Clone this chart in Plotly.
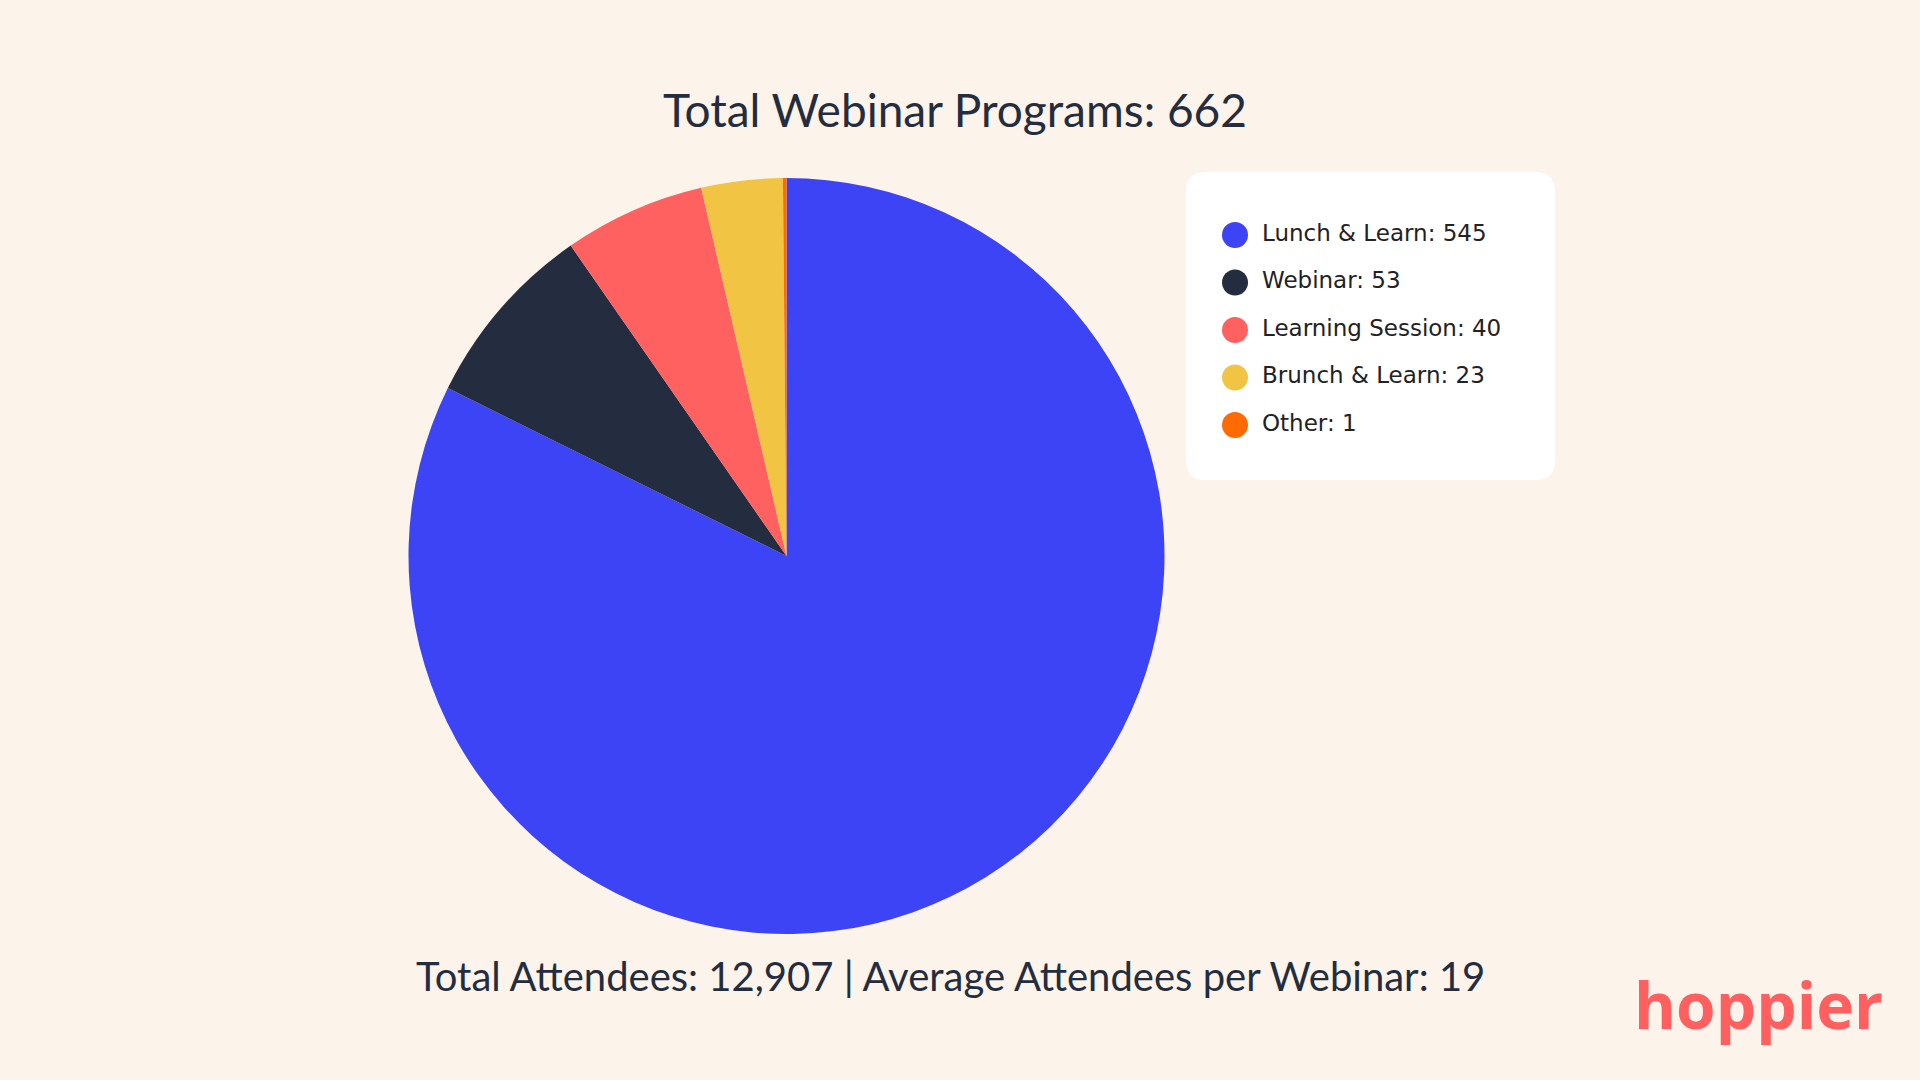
import plotly.graph_objects as go

# ---- data ----
categories = ["Lunch & Learn", "Webinar", "Learning Session", "Brunch & Learn", "Other"]
counts = [545, 53, 40, 23, 1]
colors = ["#3D44F5", "#232D3F", "#FF6161", "#F2C444", "#FF6B00"]
total_programs = 662
total_attendees = 12907
avg_attendees = 19

BG = "#FCF4EA"
TXT = "#232D3F"
W, H = 1920, 1080

fig = go.Figure()

# pie (centre 786,556 ; radius ~378 px)
cx, cy, r = 786.5, 556, 378
fig.add_trace(go.Pie(
    labels=categories, values=counts, sort=False, direction="clockwise", rotation=0,
    marker=dict(colors=colors, line=dict(width=0)), textinfo="none",
    hoverinfo="label+value", showlegend=False,
    domain=dict(x=[(cx - r) / W, (cx + r) / W], y=[1 - (cy + r) / H, 1 - (cy - r) / H]),
))

# legend drawn as data-driven scatter traces inside a rounded box
box_l, box_t, box_r, box_b = 1186, 172, 1555, 480
row0, row_gap = 63, 47.5
marker_x = 1235
text_x = 1262
rows = list(range(len(categories)))
fig.add_trace(go.Scatter(
    x=[0] * len(categories), y=rows, mode="markers",
    marker=dict(size=26, color=colors, line=dict(width=0)),
    hoverinfo="skip", showlegend=False, cliponaxis=False,
))
fig.add_trace(go.Scatter(
    x=[text_x - marker_x] * len(categories), y=rows, mode="text",
    text=[f"{c}: {v:,}" for c, v in zip(categories, counts)],
    textposition="middle right",
    textfont=dict(family="DejaVu Sans", size=23, color="#222222"),
    hoverinfo="skip", showlegend=False, cliponaxis=False,
))

bw, bh = box_r - box_l, box_b - box_t
rad = 20
hw, hh = bw / 2, bh / 2
path = (f"M {-hw + rad},{-hh} L {hw - rad},{-hh} Q {hw},{-hh} {hw},{-hh + rad} "
        f"L {hw},{hh - rad} Q {hw},{hh} {hw - rad},{hh} L {-hw + rad},{hh} "
        f"Q {-hw},{hh} {-hw},{hh - rad} L {-hw},{-hh + rad} Q {-hw},{-hh} {-hw + rad},{-hh} Z")

fig.update_layout(
    width=W, height=H,
    paper_bgcolor=BG, plot_bgcolor="rgba(0,0,0,0)",
    margin=dict(l=0, r=0, t=0, b=0),
    xaxis=dict(domain=[box_l / W, box_r / W], range=[-(marker_x - box_l), box_r - marker_x],
               visible=False, fixedrange=True),
    yaxis=dict(domain=[1 - box_b / H, 1 - box_t / H],
               range=[(bh - row0) / row_gap, -row0 / row_gap],
               visible=False, fixedrange=True),
    shapes=[dict(type="path", path=path, xref="paper", yref="paper",
                 xsizemode="pixel", ysizemode="pixel",
                 xanchor=(box_l + box_r) / 2 / W, yanchor=1 - (box_t + box_b) / 2 / H,
                 fillcolor="white", line=dict(width=0), layer="below")],
    annotations=[
        dict(text=f"Total Webinar Programs: {total_programs:,}", x=(663 + 1246) / 2 / W, y=1 - 109 / H,
             xref="paper", yref="paper", showarrow=False, xanchor="center", yanchor="middle",
             font=dict(family="Lato", size=46, color=TXT)),
        dict(text=f"Total Attendees: {total_attendees:,} | Average Attendees per Webinar: {avg_attendees}",
             x=(414 + 1487) / 2 / W, y=1 - 976 / H,
             xref="paper", yref="paper", showarrow=False, xanchor="center", yanchor="middle",
             font=dict(family="Lato", size=40, color=TXT)),
        dict(text="<b>hoppier</b>", x=1885 / W, y=1 - 1004 / H,
             xref="paper", yref="paper", showarrow=False, xanchor="right", yanchor="middle",
             font=dict(family="Open Sans", size=64, color="#FF5F5F")),
    ],
)

fig.write_html("out.html", config={"displayModeBar": False})
